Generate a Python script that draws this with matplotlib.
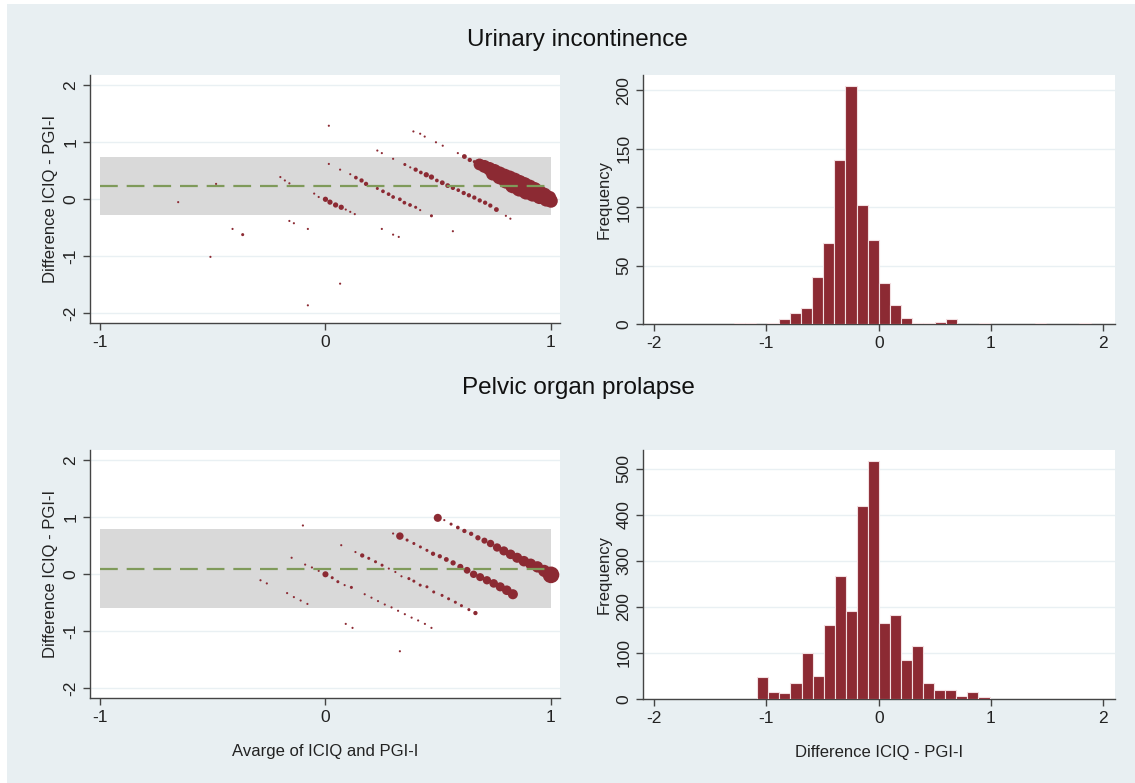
import matplotlib
matplotlib.use('Agg')
from matplotlib import pyplot as plt
from matplotlib.patches import Rectangle
import numpy as np

plt.rcParams['font.family'] = ['Liberation Sans', 'DejaVu Sans']
plt.rcParams['axes.unicode_minus'] = False

# ---- Urinary incontinence: Bland-Altman points (average, difference, weight)
ui_avg = [-0.653, -0.485, -0.51, -0.412, -0.367, -0.20, -0.18, -0.16, -0.16, -0.14,
          -0.078, -0.078, 0.065, 0.015, 0.015, 0.065, -0.05, -0.03, 0.0, 0.02,
          0.045, 0.07, 0.09, 0.11, 0.13, 0.11, 0.135, 0.16, 0.18, 0.23,
          0.25, 0.30, 0.23, 0.255, 0.28, 0.30, 0.33, 0.35, 0.375, 0.40,
          0.42, 0.47, 0.25, 0.30, 0.325, 0.565, 0.352, 0.376, 0.40, 0.423,
          0.447, 0.47, 0.494, 0.518, 0.542, 0.565, 0.589, 0.613, 0.636, 0.66,
          0.684, 0.708, 0.731, 0.758, 0.80, 0.82, 0.39, 0.42, 0.44, 0.49,
          0.52, 0.587, 0.616, 0.64, 0.66,
          0.683, 0.705, 0.727, 0.749, 0.772, 0.794, 0.816, 0.838, 0.860, 0.882,
          0.905, 0.927, 0.949, 0.971, 0.993,
          0.742, 0.772, 0.801, 0.831, 0.860, 0.890, 0.919, 0.949, 0.979, 1.0]
ui_diff = [-0.05, 0.27, -1.01, -0.52, -0.62, 0.39, 0.33, 0.28, -0.38, -0.42,
           -0.52, -1.86, -1.48, 1.29, 0.62, 0.52, 0.10, 0.04, 0.0, -0.05,
           -0.10, -0.14, -0.18, -0.22, -0.26, 0.44, 0.38, 0.33, 0.27, 0.855,
           0.81, 0.71, 0.19, 0.14, 0.09, 0.04, 0.0, -0.06, -0.10, -0.14,
           -0.19, -0.29, -0.52, -0.62, -0.66, -0.56, 0.61, 0.56, 0.52, 0.47,
           0.43, 0.39, 0.33, 0.29, 0.24, 0.20, 0.16, 0.11, 0.07, 0.03,
           -0.02, -0.06, -0.11, -0.18, -0.29, -0.34, 1.19, 1.15, 1.10, 1.0,
           0.94, 0.81, 0.75, 0.69, 0.66,
           0.611, 0.576, 0.535, 0.494, 0.448, 0.407, 0.372, 0.332, 0.291, 0.256,
           0.215, 0.175, 0.128, 0.081, 0.029,
           0.448, 0.390, 0.320, 0.244, 0.186, 0.128, 0.087, 0.041, -0.006, -0.029]
ui_w = [1, 1, 1, 1, 2, 1, 1, 1, 1, 1,
        1, 1, 1, 1, 1, 1, 1, 1, 6, 6,
        6, 6, 1, 1, 1, 1, 3, 4, 4, 1,
        1, 1, 2, 3, 3, 3, 3, 3, 3, 2,
        1, 2, 1, 1, 1, 1, 2, 1, 4, 3,
        6, 6, 3, 5, 5, 4, 3, 4, 4, 4,
        4, 4, 4, 5, 1, 1, 1, 1, 1, 1,
        1, 1, 5, 4, 2,
        30, 36, 40, 44, 46, 48, 50, 52, 52, 50,
        48, 46, 44, 42, 40,
        40, 46, 50, 54, 54, 50, 46, 44, 42, 40]
ui_mean, ui_lo, ui_hi = 0.23, -0.28, 0.74

# ---- Pelvic organ prolapse: Bland-Altman points
pop_avg = [-0.10, -0.15, -0.288, -0.26, -0.17, -0.14, -0.11, -0.08, -0.09, -0.06,
           -0.03, 0.0, 0.03, 0.055, 0.085, 0.115, 0.07,
           0.133, 0.163, 0.192, 0.222, 0.251, 0.281, 0.31, 0.337, 0.37, 0.392,
           0.42, 0.45, 0.48, 0.517, 0.546, 0.576, 0.603, 0.636, 0.665,
           0.09, 0.12,
           0.174, 0.204, 0.233, 0.263, 0.293, 0.322, 0.352, 0.382, 0.411, 0.441, 0.47,
           0.33,
           0.30, 0.33, 0.362, 0.392, 0.421, 0.45, 0.477, 0.507, 0.536, 0.566,
           0.598, 0.628, 0.657, 0.686, 0.716, 0.746, 0.775, 0.804, 0.831,
           0.498, 0.527, 0.557, 0.587, 0.616, 0.646, 0.676, 0.705, 0.732, 0.761,
           0.791, 0.821, 0.85, 0.88, 0.91, 0.94, 0.97, 1.0]
pop_diff = [0.856, 0.29, -0.105, -0.16, -0.33, -0.40, -0.46, -0.52, 0.17, 0.12,
            0.06, 0.0, -0.06, -0.13, -0.19, -0.23, 0.51,
            0.39, 0.33, 0.28, 0.22, 0.16, 0.10, 0.04, -0.035, -0.076, -0.12,
            -0.19, -0.22, -0.31, -0.37, -0.43, -0.49, -0.55, -0.62, -0.68,
            -0.87, -0.94,
            -0.35, -0.41, -0.47, -0.53, -0.58, -0.64, -0.70, -0.76, -0.81, -0.87, -0.94,
            -1.35,
            0.715, 0.67, 0.60, 0.54, 0.48, 0.42, 0.36, 0.316, 0.26, 0.20,
            0.13, 0.07, 0.0, -0.05, -0.105, -0.16, -0.22, -0.28, -0.35,
            0.99, 0.95, 0.88, 0.82, 0.76, 0.71, 0.64, 0.59, 0.54, 0.47,
            0.41, 0.35, 0.29, 0.23, 0.18, 0.13, 0.06, -0.01]
pop_w = [1, 1, 1, 1, 1, 1, 1, 1, 1, 1,
         1, 8, 2, 2, 1, 2, 1,
         1, 4, 2, 2, 2, 1, 1, 1, 2, 2,
         2, 2, 2, 2, 2, 2, 2, 2, 4,
         1, 1,
         1, 1, 1, 1, 1, 1, 1, 1, 1, 1, 1,
         1,
         1, 12, 2, 2, 2, 2, 4, 4, 5, 6,
         8, 10, 12, 14, 15, 16, 18, 20, 22,
         14, 1, 2, 3, 4, 4, 6, 8, 12, 15,
         18, 20, 22, 24, 26, 28, 32, 60]
pop_mean, pop_lo, pop_hi = 0.10, -0.59, 0.79

# ---- histograms of the difference (bin start, bin width, counts)
ui_bin_start, ui_bin_width = -1.29, 0.0993
ui_counts = [1, 1, 0, 1, 4, 9, 14, 40, 69, 140, 204, 102, 72, 35, 16, 5,
             1, 1, 2, 4, 0, 0, 1, 0, 0, 0, 0, 1, 0, 0, 0, 1]
pop_bin_start, pop_bin_width = -1.18, 0.0985
pop_counts = [1, 47, 16, 13, 34, 101, 49, 161, 267, 192, 420, 518, 165, 182, 84, 116,
              35, 20, 20, 7, 15, 4, 1, 0, 1, 1, 0, 1, 1, 0, 1, 1]

BG = '#e8eff2'
RED = '#8c2a33'
AXC = '#444444'
GRID = '#e9f0f3'
TXT = '#222222'

fig = plt.figure(figsize=(11.35, 7.83), dpi=100)
fig.patch.set_facecolor('white')
fig.patches.append(Rectangle((7 / 1135, 0), 1, 779 / 783, transform=fig.transFigure,
                             facecolor=BG, edgecolor='none', zorder=-10))

W, H = 1135, 783


def axes_px(l, r, t, b):
    return fig.add_axes([l / W, (H - b) / H, (r - l) / W, (b - t) / H])


def style(ax, yticks, xticks):
    ax.set_facecolor('white')
    for s in ['top', 'right']:
        ax.spines[s].set_visible(False)
    for s in ['left', 'bottom']:
        ax.spines[s].set_color(AXC)
        ax.spines[s].set_linewidth(1.0)
    ax.set_yticks(yticks)
    ax.set_xticks(xticks)
    ax.tick_params(colors=AXC, labelcolor=TXT, labelsize=12.5, length=5, width=1)
    for lab in ax.get_yticklabels():
        lab.set_rotation(90)
        lab.set_va('center')
    for yv in yticks:
        ax.axhline(yv, color=GRID, lw=1.0, zorder=0)


def bland_altman(ax, avg, diff, w, mean, lo, hi):
    ax.fill_between([-1, 1], [lo, lo], [hi, hi], color='#d9d9d9', lw=0, zorder=1)
    ax.scatter(avg, diff, s=np.array(w) * 2.4, color=RED, lw=0, zorder=3)
    ax.plot([-1, 1], [mean, mean], color='#7f9a5a', lw=1.6, dashes=(8, 4), zorder=4)
    ax.set_xlim(-1.044, 1.04)
    ax.set_ylim(-2.17, 2.18)
    style(ax, [-2, -1, 0, 1, 2], [-1, 0, 1])
    ax.set_ylabel('Difference ICIQ - PGI-I', fontsize=12, color=TXT, labelpad=4)


def hist(ax, start, width, counts, ymax, yticks):
    left = start + width * np.arange(len(counts))
    ax.bar(left, counts, width=width, align='edge', color=RED,
           edgecolor='#f2dfe1', linewidth=0.8, zorder=3)
    ax.set_xlim(-2.1, 2.105)
    ax.set_ylim(0, ymax)
    style(ax, yticks, [-2, -1, 0, 1, 2])
    ax.set_ylabel('Frequency', fontsize=12, color=TXT, labelpad=3)


ax1 = axes_px(90, 560, 75, 323)
bland_altman(ax1, ui_avg, ui_diff, ui_w, ui_mean, ui_lo, ui_hi)
ax2 = axes_px(643, 1115, 75, 324)
hist(ax2, ui_bin_start, ui_bin_width, ui_counts, 213, [0, 50, 100, 150, 200])
ax3 = axes_px(90, 560, 450, 698)
bland_altman(ax3, pop_avg, pop_diff, pop_w, pop_mean, pop_lo, pop_hi)
ax3.set_xlabel('Avarge of ICIQ and PGI-I', fontsize=12, color=TXT, labelpad=14)
ax4 = axes_px(643, 1115, 450, 699)
hist(ax4, pop_bin_start, pop_bin_width, pop_counts, 541, [0, 100, 200, 300, 400, 500])
ax4.set_xlabel('Difference ICIQ - PGI-I', fontsize=12, color=TXT, labelpad=14)

fig.text(577 / W, 1 - 40 / H, 'Urinary incontinence', ha='center', va='center',
         fontsize=17.5, color='#111111')
fig.text(578 / W, 1 - 388 / H, 'Pelvic organ prolapse', ha='center', va='center',
         fontsize=17.5, color='#111111')

fig.savefig('out.png', dpi=100, facecolor=fig.get_facecolor())
